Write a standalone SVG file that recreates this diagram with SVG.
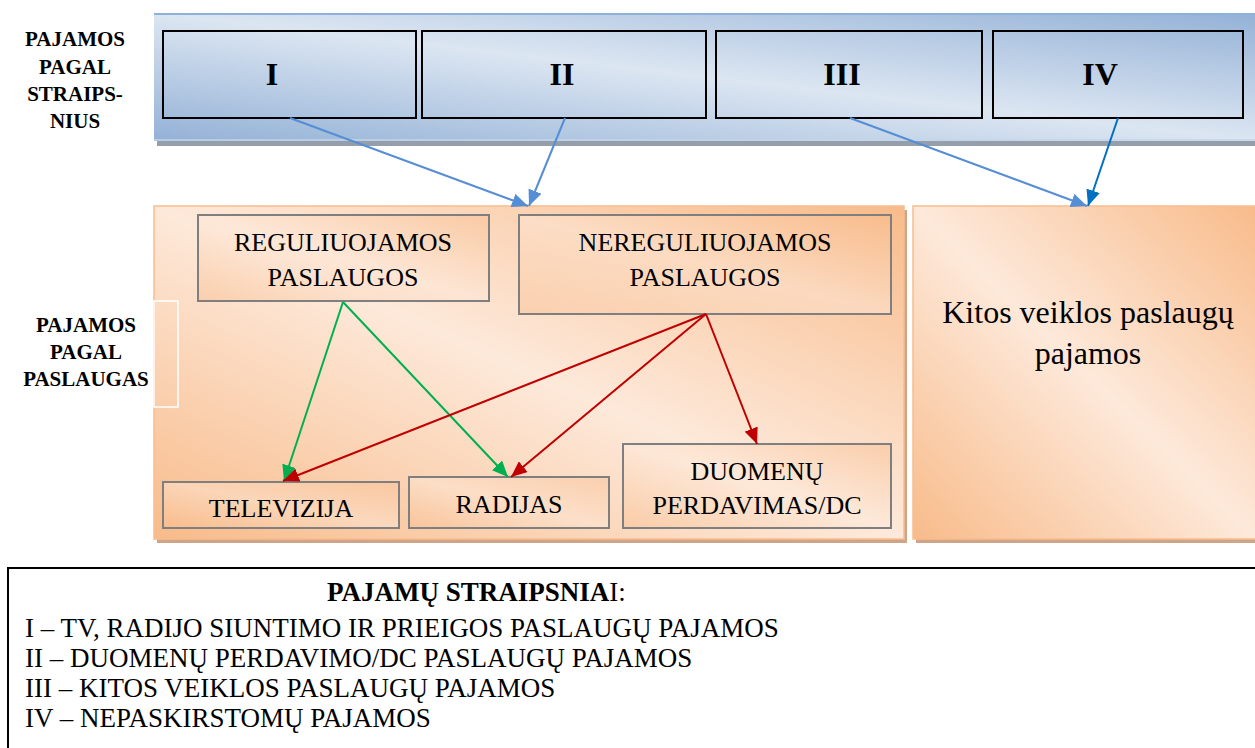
<svg xmlns="http://www.w3.org/2000/svg" width="1255" height="748" viewBox="0 0 1255 748">
<style>
  text { font-family: 'Liberation Serif', 'Times New Roman', 'DejaVu Serif', serif; fill: #000; }
  .side { font-size: 21px; font-weight: bold; text-anchor: middle; }
  .roman { font-size: 32px; font-weight: bold; text-anchor: middle; }
  .svc { font-size: 26px; text-anchor: middle; }
  .leg { font-size: 27px; }
  .tbox { fill: none; stroke: #000; stroke-width: 2; }
  .sbox { fill: url(#og); fill-opacity: 0.45; stroke: #7f7f7f; stroke-width: 2; }
  .blue { stroke: #558ed5; stroke-width: 2; fill: none; marker-end: url(#mBlue); }
  .dblue { stroke: #0070c0; stroke-width: 2; fill: none; marker-end: url(#mDBlue); }
  .green { stroke: #00b050; stroke-width: 2; fill: none; marker-end: url(#mGreen); }
  .red { stroke: #c00000; stroke-width: 2; fill: none; marker-end: url(#mRed); }
</style>
<defs>
  <linearGradient id="bg" x1="0" y1="1" x2="1" y2="0">
    <stop offset="0" stop-color="#93b1d6"/>
    <stop offset="0.5" stop-color="#dce6f2"/>
    <stop offset="1" stop-color="#93b1d6"/>
  </linearGradient>
  <linearGradient id="og" x1="0" y1="1" x2="1" y2="0">
    <stop offset="0" stop-color="#f8bb8a"/>
    <stop offset="0.5" stop-color="#fde9da"/>
    <stop offset="1" stop-color="#f8bb8a"/>
  </linearGradient>
  <marker id="mBlue" viewBox="0 0 16 14" refX="16" refY="7" markerWidth="16" markerHeight="14" markerUnits="userSpaceOnUse" orient="auto">
    <path d="M0,0 L16,7 L0,14 z" fill="#558ed5"/>
  </marker>
  <marker id="mDBlue" viewBox="0 0 16 14" refX="16" refY="7" markerWidth="16" markerHeight="14" markerUnits="userSpaceOnUse" orient="auto">
    <path d="M0,0 L16,7 L0,14 z" fill="#0070c0"/>
  </marker>
  <marker id="mGreen" viewBox="0 0 16 14" refX="16" refY="7" markerWidth="16" markerHeight="14" markerUnits="userSpaceOnUse" orient="auto">
    <path d="M0,0 L16,7 L0,14 z" fill="#00b050"/>
  </marker>
  <marker id="mRed" viewBox="0 0 16 14" refX="16" refY="7" markerWidth="16" markerHeight="14" markerUnits="userSpaceOnUse" orient="auto">
    <path d="M0,0 L16,7 L0,14 z" fill="#c00000"/>
  </marker>
</defs>

<rect width="1255" height="748" fill="#fff"/>

<g id="band-straipsniai">
  <rect x="157" y="18" width="1100" height="128" fill="#959fab"/>
  <rect x="154" y="13" width="1103" height="128" fill="url(#bg)"/>
  <line x1="154" y1="14" x2="1255" y2="14" stroke="#8eb1dc" stroke-width="2"/>
  <line x1="154" y1="140" x2="1255" y2="140" stroke="#c4d5ea" stroke-width="1.5"/>
</g>

<g id="label-straipsnius">
  <text class="side" x="75" y="46">PAJAMOS</text>
  <text class="side" x="75" y="74">PAGAL</text>
  <text class="side" x="75" y="101">STRAIPS-</text>
  <text class="side" x="75" y="128">NIUS</text>
</g>

<g id="box-I">
  <rect class="tbox" x="163" y="31" width="253" height="87"/>
  <text class="roman" x="272" y="85">I</text>
</g>
<g id="box-II">
  <rect class="tbox" x="422" y="31" width="284" height="87"/>
  <text class="roman" x="562" y="85">II</text>
</g>
<g id="box-III">
  <rect class="tbox" x="716" y="31" width="266" height="87"/>
  <text class="roman" x="842" y="85">III</text>
</g>
<g id="box-IV">
  <rect class="tbox" x="993" y="31" width="250" height="87"/>
  <text class="roman" x="1100" y="85">IV</text>
</g>

<g id="panel-services">
  <rect x="157" y="210" width="750" height="333" fill="#cfa58a"/>
  <rect x="154" y="206" width="750" height="333" fill="url(#og)" stroke="#f9bd8e" stroke-width="1.5"/>
  <rect x="154" y="301" width="24" height="106" fill="none" stroke="#fff" stroke-width="1.5"/>
</g>
<g id="panel-kitos">
  <rect x="916" y="210" width="342" height="333" fill="#cfa58a"/>
  <rect x="913" y="206" width="345" height="333" fill="url(#og)" stroke="#f9bd8e" stroke-width="1.5"/>
  <text x="1088" y="323" font-size="32" text-anchor="middle">Kitos veiklos paslaugų</text>
  <text x="1088" y="364" font-size="32" text-anchor="middle">pajamos</text>
</g>

<g id="label-paslaugas">
  <text class="side" x="86" y="332">PAJAMOS</text>
  <text class="side" x="86" y="359">PAGAL</text>
  <text class="side" x="86" y="386">PASLAUGAS</text>
</g>

<g id="node-reguliuojamos">
  <rect class="sbox" x="198" y="215" width="291" height="86"/>
  <text class="svc" x="343" y="251">REGULIUOJAMOS</text>
  <text class="svc" x="343" y="286">PASLAUGOS</text>
</g>
<g id="node-nereguliuojamos">
  <rect class="sbox" x="519" y="215" width="372" height="99"/>
  <text class="svc" x="705" y="251">NEREGULIUOJAMOS</text>
  <text class="svc" x="705" y="286">PASLAUGOS</text>
</g>
<g id="node-televizija">
  <rect class="sbox" x="163" y="482" width="236" height="46"/>
  <text class="svc" x="281" y="517">TELEVIZIJA</text>
</g>
<g id="node-radijas">
  <rect class="sbox" x="409" y="477" width="200" height="51"/>
  <text class="svc" x="509" y="513">RADIJAS</text>
</g>
<g id="node-duomenu">
  <rect class="sbox" x="623" y="444" width="268" height="84"/>
  <text class="svc" x="757" y="480">DUOMENŲ</text>
  <text class="svc" x="757" y="514">PERDAVIMAS/DC</text>
</g>

<g id="connectors">
  <path class="blue" d="M290,118 L528,206"/>
  <path class="blue" d="M565,118 L529,206"/>
  <path class="blue" d="M850,118 L1087,206"/>
  <path class="dblue" d="M1118,118 L1088,206"/>
  <path class="green" d="M343,302 L284,481"/>
  <path class="green" d="M343,302 L508,477"/>
  <path class="red" d="M706,314 L283,481"/>
  <path class="red" d="M706,314 L511,477"/>
  <path class="red" d="M706,314 L757,444"/>
</g>

<g id="legend">
  <rect x="8" y="568" width="1260" height="200" fill="#fff" stroke="#000" stroke-width="2"/>
  <text class="leg" x="327" y="601"><tspan font-weight="bold">PAJAMŲ STRAIPSNIA</tspan>I:</text>
  <text class="leg" x="25" y="637">I – TV, RADIJO SIUNTIMO IR PRIEIGOS PASLAUGŲ PAJAMOS</text>
  <text class="leg" x="25" y="667">II – DUOMENŲ PERDAVIMO/DC PASLAUGŲ PAJAMOS</text>
  <text class="leg" x="25" y="697">III – KITOS VEIKLOS PASLAUGŲ PAJAMOS</text>
  <text class="leg" x="25" y="727">IV – NEPASKIRSTOMŲ PAJAMOS</text>
</g>
</svg>
